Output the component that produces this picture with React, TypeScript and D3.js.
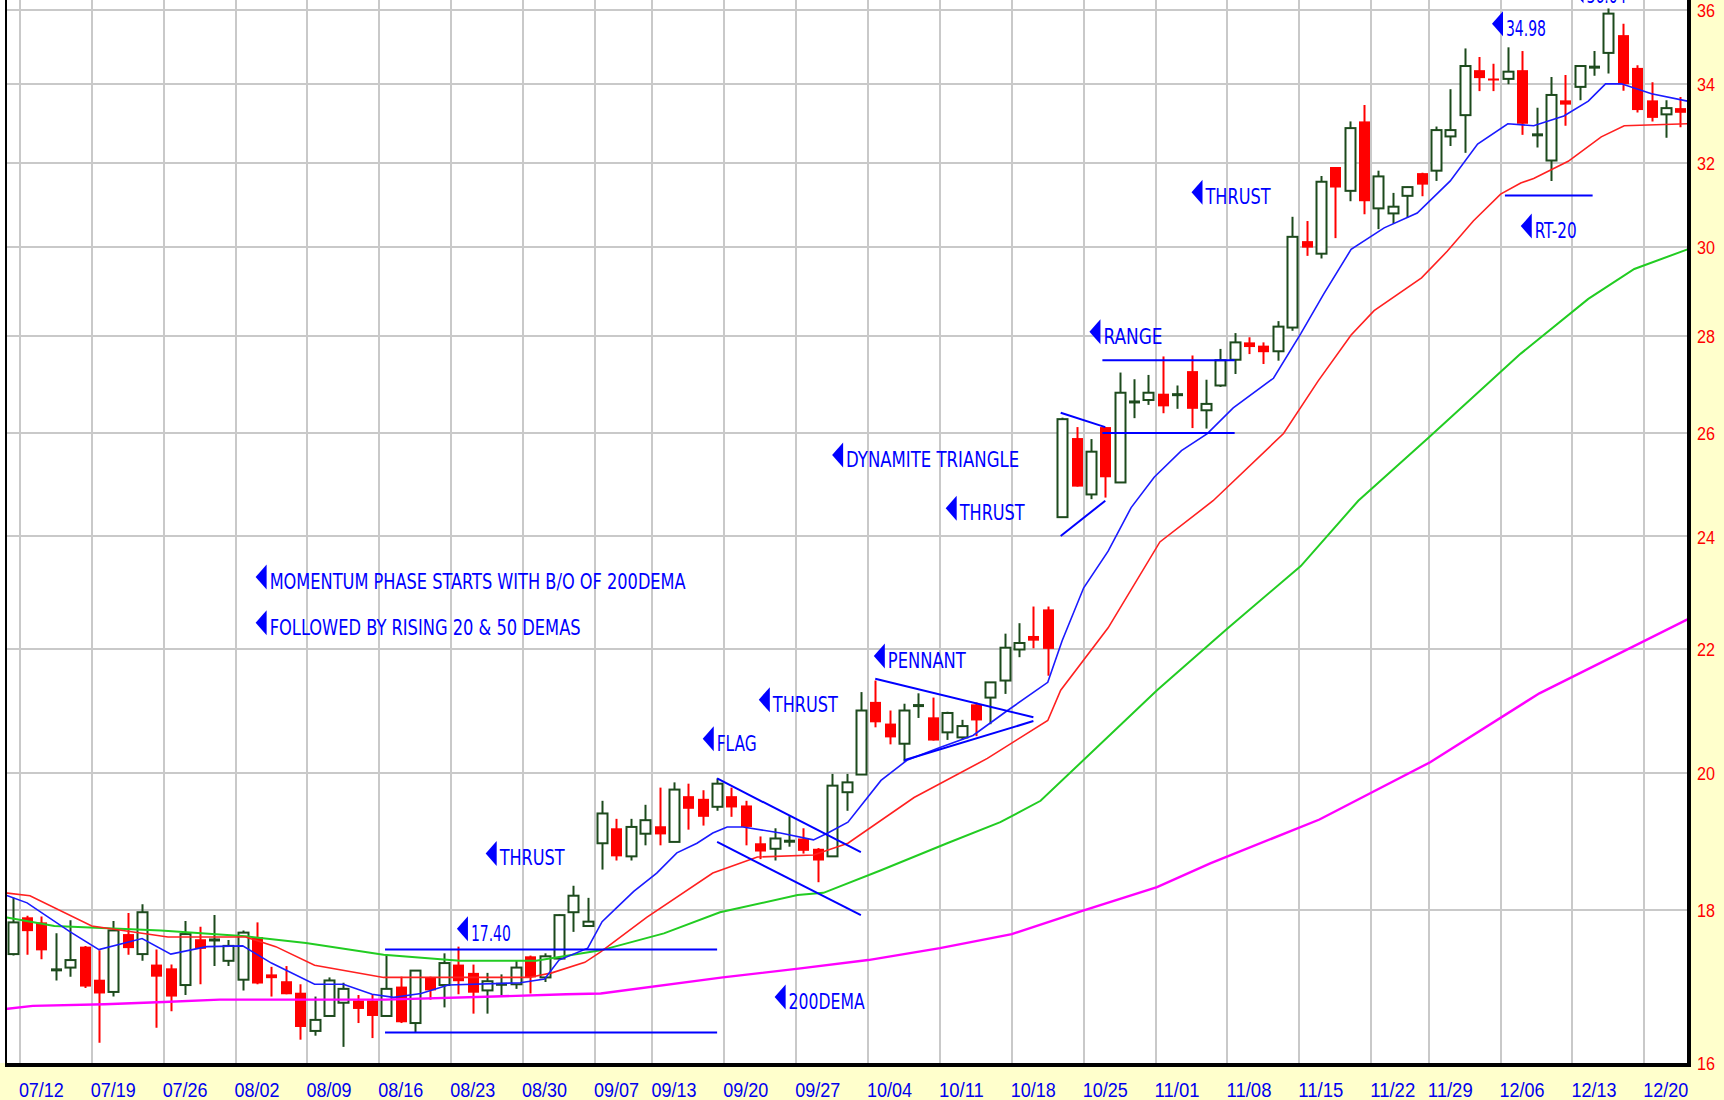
import React from "react";
import * as d3 from "d3";

// ---------------- DATA ----------------
// candle index: -1 = 07/09, 0 = 07/12 ... 115 = 12/22 (trading days)
const firstIndex = -1;

const openP = [
  17.40,
  17.90, 17.83, 17.19, 17.22, 17.50,
  17.06, 16.90, 17.67, 17.40, 17.26,
  17.21, 16.99, 17.60, 17.59, 17.31,
  17.06, 17.63, 17.13, 17.04, 16.89,
  16.40, 16.59, 16.76, 16.79, 16.79,
  16.59, 16.97, 16.50, 17.09, 16.99,
  17.26, 17.15, 16.92, 17.00, 17.00,
  17.37, 17.09, 17.34, 17.97, 17.78,
  18.95, 19.17, 18.76, 19.09,
  19.20, 18.97, 19.65, 19.61, 19.49,
  19.65, 19.51, 18.95, 18.87, 18.98,
  19.02, 18.87, 18.76, 19.71, 19.98,
  21.13, 20.78, 20.46, 21.07, 20.88,
  20.64, 20.56, 21.09, 21.20, 21.48,
  22.00, 22.23, 22.69, 24.36, 25.89,
  24.79, 26.11, 25.02, 26.62, 26.66,
  26.79, 26.77, 27.26, 26.45, 26.96,
  27.50, 27.87, 27.80, 27.68, 28.19,
  30.13, 29.84, 31.90, 31.32, 33.04,
  30.90, 30.78, 31.20, 31.75,
  31.81, 32.66, 33.20, 34.37, 34.15,
  34.14, 34.37, 32.70, 32.06, 33.58,
  33.93, 34.45, 34.83, 35.31, 34.43,
  33.58, 33.22, 33.38,
];

const highP = [
  18.17,
  17.92, 17.91, 17.68, 17.86, 17.51,
  17.45, 17.85, 17.96, 18.08, 17.46,
  17.26, 17.85, 17.77, 17.93, 17.59,
  17.72, 17.83, 17.23, 17.24, 17.00,
  16.84, 17.09, 17.02, 16.86, 16.86,
  17.39, 17.10, 17.18, 17.10, 17.41,
  17.50, 17.26, 17.15, 17.13, 17.31,
  17.38, 17.41, 17.94, 18.34, 18.17,
  19.58, 19.31, 19.31, 19.52,
  19.78, 19.86, 19.84, 19.74, 19.92,
  19.78, 19.58, 19.05, 19.17, 19.35,
  19.17, 18.88, 19.99, 19.99, 21.29,
  21.48, 20.99, 21.10, 21.27, 21.20,
  20.97, 20.84, 21.12, 21.45, 22.27,
  22.45, 22.74, 22.74, 26.30, 26.11,
  25.87, 26.11, 27.23, 27.09, 27.18,
  27.57, 26.96, 27.59, 27.08, 27.73,
  28.07, 27.98, 27.87, 28.33, 30.70,
  30.60, 31.68, 31.90, 33.04, 33.46,
  31.81, 31.27, 31.42, 31.76,
  32.91, 33.87, 34.95, 34.72, 34.54,
  34.98, 34.88, 33.39, 34.19, 34.24,
  34.48, 34.88, 36.04, 35.62, 34.50,
  34.05, 33.58, 33.67,
];

const lowP = [
  17.38,
  17.39, 17.33, 17.05, 17.10, 16.95,
  16.25, 16.84, 17.39, 17.31, 16.44,
  16.65, 16.86, 17.00, 17.24, 17.24,
  16.92, 17.00, 16.84, 16.87, 16.29,
  16.34, 16.59, 16.20, 16.50, 16.31,
  16.59, 16.50, 16.38, 16.80, 16.70,
  16.87, 16.62, 16.62, 16.86, 16.94,
  16.88, 17.03, 17.33, 17.70, 17.78,
  18.57, 18.70, 18.70, 18.92,
  18.92, 18.97, 19.15, 19.21, 19.43,
  19.34, 18.92, 18.72, 18.70, 18.90,
  18.80, 18.39, 18.76, 19.43, 19.98,
  20.72, 20.45, 20.18, 20.87, 20.51,
  20.52, 20.52, 20.58, 20.77, 21.26,
  21.87, 22.02, 21.56, 24.36, 24.94,
  24.70, 24.73, 25.02, 26.29, 26.56,
  26.39, 26.48, 26.09, 26.08, 26.93,
  27.20, 27.62, 27.41, 27.48, 28.12,
  29.79, 29.73, 30.20, 31.07, 30.76,
  30.41, 30.54, 30.68, 31.19,
  31.56, 32.42, 32.25, 33.82, 33.82,
  34.00, 32.70, 32.38, 31.56, 32.93,
  33.58, 34.22, 34.28, 33.83, 33.27,
  33.04, 32.63, 32.89,
];

const closeP = [
  17.83,
  17.71, 17.45, 17.19, 17.32, 16.97,
  16.88, 17.72, 17.48, 17.97, 17.10,
  16.84, 17.67, 17.47, 17.59, 17.51,
  17.69, 17.01, 17.08, 16.87, 16.45,
  16.54, 17.05, 16.94, 16.68, 16.59,
  16.94, 16.51, 17.18, 16.92, 17.28,
  17.04, 16.89, 17.04, 17.00, 17.22,
  17.09, 17.37, 17.93, 18.20, 17.84,
  19.39, 18.76, 19.19, 19.29,
  19.08, 19.75, 19.46, 19.34, 19.84,
  19.48, 19.19, 18.83, 19.02, 18.98,
  18.84, 18.70, 19.81, 19.86, 20.99,
  20.80, 20.56, 20.99, 21.07, 20.51,
  20.95, 20.74, 20.83, 21.45, 22.03,
  22.11, 22.15, 22.01, 26.27, 24.94,
  25.62, 25.12, 26.81, 26.62, 26.81,
  26.53, 26.77, 26.48, 26.58, 27.49,
  27.87, 27.77, 27.66, 28.21, 30.23,
  29.98, 31.54, 31.40, 32.87, 31.07,
  31.67, 30.94, 31.41, 31.47,
  32.82, 32.82, 34.48, 34.16, 34.11,
  34.33, 32.98, 32.70, 33.72, 33.47,
  34.48, 34.45, 35.90, 34.00, 33.33,
  33.13, 33.38, 33.26,
];

// weekly date ticks (index of the Monday / first trading day of the week)
const weekTickIdx = [0, 5, 10, 15, 20, 25, 30, 35, 40, 44, 49, 54, 59, 64, 69, 74, 79, 84, 89, 94, 98, 103, 108, 113];
const weekTickLabels = ["07/12", "07/19", "07/26", "08/02", "08/09", "08/16", "08/23", "08/30", "09/07", "09/13", "09/20", "09/27", "10/04", "10/11", "10/18", "10/25", "11/01", "11/08", "11/15", "11/22", "11/29", "12/06", "12/13", "12/20"];
const priceTicks = [16, 18, 20, 22, 24, 26, 28, 30, 32, 34, 36];

// moving averages [index, price]
const dema10 = [[-1.5, 18.21], [0, 18.10], [3, 17.70], [5, 17.46], [8, 17.61], [10, 17.40], [12.5, 17.50], [15, 17.51], [17, 17.28], [20, 17.00], [22, 17.00], [24, 16.87], [25.5, 16.83], [27.4, 16.88], [29.3, 16.99], [34.3, 17.02], [36, 17.07], [37, 17.32], [39, 17.48], [40, 17.84], [41, 18.03], [42.2, 18.26], [43.8, 18.52], [45.2, 18.81], [46.6, 18.95], [47.7, 19.10], [48.7, 19.19], [49.8, 19.19], [52.4, 19.10], [54.7, 19.00], [55.7, 19.10], [57.1, 19.26], [59.4, 19.89], [61.2, 20.20], [63.5, 20.40], [65.8, 20.59], [68.2, 20.99], [71, 21.45], [72, 22.15], [73.5, 23.07], [75.2, 23.73], [76.8, 24.54], [78.4, 25.12], [80.3, 25.64], [82.1, 25.98], [83.9, 26.50], [86.7, 27.11], [88.6, 28.06], [90.2, 28.93], [92.1, 29.94], [94.4, 30.44], [96.7, 30.79], [99, 31.56], [100.9, 32.47], [103, 32.98], [104.8, 32.93], [106.9, 33.18], [108.6, 33.56], [109.8, 34.01], [110.9, 34.01], [113, 33.75], [115.5, 33.56]];
const dema20 = [[-1.5, 18.24], [0.2, 18.20], [4.5, 17.78], [9.8, 17.63], [15.2, 17.63], [17.3, 17.50], [20, 17.25], [24.8, 17.09], [34.9, 17.09], [36.5, 17.15], [38.8, 17.29], [39.9, 17.43], [43.1, 17.90], [47.7, 18.52], [50.8, 18.75], [54.7, 18.78], [57.1, 18.95], [61.7, 19.63], [66.8, 20.23], [71, 20.83], [71.9, 21.32], [75.2, 22.37], [78.8, 23.90], [82.5, 24.67], [87.4, 25.98], [89.8, 27.05], [92.1, 28.03], [93.7, 28.56], [97, 29.29], [98.8, 29.90], [100.6, 30.60], [102.5, 31.24], [103.9, 31.51], [104.8, 31.62], [107.2, 32.04], [109.5, 32.65], [111.1, 32.93], [115.5, 32.98]];
const dema50 = [[-1.5, 17.90], [1.9, 17.78], [9.3, 17.72], [15.2, 17.64], [19.4, 17.55], [24.8, 17.39], [30.1, 17.31], [35.4, 17.31], [39.9, 17.45], [44.3, 17.68], [48.2, 17.97], [53.6, 18.21], [55.4, 18.24], [59.4, 18.56], [64, 18.95], [67.7, 19.26], [70.5, 19.58], [78.6, 21.32], [83.5, 22.36], [88.6, 23.46], [92.6, 24.67], [97.5, 25.90], [103.9, 27.63], [108.6, 28.82], [111.8, 29.49], [115.5, 29.94]];
const dema200 = [[-1.5, 16.68], [0.4, 16.72], [5.4, 16.74], [9.5, 16.77], [13.4, 16.80], [24.9, 16.80], [32.5, 16.84], [37.5, 16.87], [39.9, 16.88], [48.4, 17.09], [53.8, 17.21], [58.5, 17.32], [63.5, 17.48], [68.5, 17.67], [73.4, 17.99], [78.6, 18.32], [82.3, 18.66], [89.9, 19.30], [97.6, 20.17], [105.2, 21.27], [115.6, 22.53]];

// drawn pattern lines [[index, price], [index, price]]
const patternLines = [
  [[24.9, 17.46], [48.0, 17.46]],
  [[24.9, 16.38], [48.0, 16.38]],
  [[48.0, 19.92], [58.0, 18.82]],
  [[48.0, 18.97], [58.0, 17.93]],
  [[59.0, 21.51], [70.0, 20.88]],
  [[61.0, 20.20], [70.0, 20.82]],
  [[71.9, 26.40], [75.0, 26.11]],
  [[71.9, 24.01], [75.0, 24.67]],
  [[74.8, 27.49], [84.0, 27.49]],
  [[74.8, 25.99], [84.0, 25.99]],
  [[102.8, 31.21], [108.9, 31.21]],
];

// annotations: text, anchor index, anchor price (baseline)
const annoText = ["MOMENTUM PHASE STARTS WITH B/O OF 200DEMA", "FOLLOWED BY RISING 20 & 50 DEMAS", "THRUST", "17.40", "FLAG", "THRUST", "PENNANT", "DYNAMITE TRIANGLE", "THRUST", "RANGE", "THRUST", "34.98", "RT-20", "200DEMA", "36.04"];
const annoIdx = [15.9, 15.9, 31.9, 29.9, 47.0, 50.9, 58.9, 56.0, 63.9, 73.9, 81.0, 101.9, 103.9, 52.0, 107.5];
const annoPrice = [23.05, 22.25, 18.63, 17.58, 20.35, 20.97, 21.69, 25.32, 24.30, 27.84, 31.00, 35.29, 30.20, 16.68, 36.20];

// ---------------- STYLE ----------------
const annoWidth = [416, 311, 65, 40, 40, 65, 78, 173, 65, 59, 65, 40, 42, 76, 40];
const W = 1724;
const H = 1100;
const PLOT_L = 5.5;
const PLOT_R = 1687.5;
const PLOT_B = 1063;
const BG_YELLOW = "#ffffcc";
const GRID = "#c9c9c9";
const UP_GREEN = "#1d4a1d";
const DOWN_RED = "#ff0000";
const BLUE = "#0000ff";
const NARROW = "'Liberation Sans Narrow', 'Arial Narrow', 'DejaVu Sans Condensed', 'Liberation Sans', Arial, sans-serif";
const SANS = "'Liberation Sans', Arial, 'DejaVu Sans', sans-serif";

export default function App() {
  const x = d3.scaleLinear().domain([-1.5, 115.5]).range([PLOT_L, PLOT_R]);
  const y = d3.scaleLog().domain([16, 36]).range([PLOT_B, 10]);
  const lineGen = d3
    .line<number[]>()
    .x((d) => x(d[0]))
    .y((d) => y(d[1]));

  const candles = openP.map((o, k) => {
    const i = k + firstIndex;
    const h = highP[k];
    const l = lowP[k];
    const c = closeP[k];
    const cx = Math.round(x(i));
    const up = c > o;
    const doji = c === o;
    const col = up || doji ? UP_GREEN : DOWN_RED;
    let body;
    if (doji) {
      body = <rect x={cx - 5} y={y(o) - 1.5} width={11} height={3} fill={UP_GREEN} />;
    } else if (up) {
      body = (
        <rect x={cx - 4.5} y={y(c)} width={10} height={Math.max(1, y(o) - y(c))} fill="#ffffff" stroke={UP_GREEN} strokeWidth={2} />
      );
    } else {
      body = <rect x={cx - 5} y={y(o)} width={11} height={Math.max(2, y(c) - y(o))} fill={DOWN_RED} />;
    }
    return (
      <g key={k}>
        <line x1={cx + 0.5} x2={cx + 0.5} y1={y(h)} y2={y(l)} stroke={col} strokeWidth={2} />
        {body}
      </g>
    );
  });

  return (
    <svg
      width={W}
      height={H}
      viewBox={`0 0 ${W} ${H}`}
      style={{ position: "absolute", left: 0, top: 0, display: "block" }}
    >
      <defs>
        <clipPath id="plotClip">
          <rect x={PLOT_L} y={-40} width={PLOT_R - PLOT_L} height={PLOT_B + 40} />
        </clipPath>
      </defs>
      {/* backgrounds */}
      <rect x={0} y={0} width={W} height={H} fill={BG_YELLOW} />
      <rect x={0} y={0} width={PLOT_R} height={PLOT_B} fill="#ffffff" />

      {/* grid */}
      <g>
        {weekTickIdx.map((t, k) => (
          <line key={"vg" + k} x1={Math.round(x(t - 0.5))} x2={Math.round(x(t - 0.5))} y1={0} y2={PLOT_B} stroke={GRID} strokeWidth={2} />
        ))}
        {priceTicks.slice(1).map((p, k) => (
          <line key={"hg" + k} x1={PLOT_L} x2={PLOT_R} y1={Math.round(y(p))} y2={Math.round(y(p))} stroke={GRID} strokeWidth={2} />
        ))}
      </g>

      <g clipPath="url(#plotClip)">
        {candles}
        <path d={lineGen(dema200) || ""} fill="none" stroke="#ff00ff" strokeWidth={2.4} />
        <path d={lineGen(dema50) || ""} fill="none" stroke="#22cc22" strokeWidth={2} />
        <path d={lineGen(dema20) || ""} fill="none" stroke="#ff2020" strokeWidth={1.6} />
        <path d={lineGen(dema10) || ""} fill="none" stroke="#1a1aff" strokeWidth={1.6} />
        {patternLines.map((seg, k) => (
          <line key={"pl" + k} x1={x(seg[0][0])} y1={y(seg[0][1])} x2={x(seg[1][0])} y2={y(seg[1][1])} stroke={BLUE} strokeWidth={2} />
        ))}
        {annoText.map((t, k) => {
          const tx = x(annoIdx[k]);
          const by = y(annoPrice[k]);
          const yc = by - 12;
          return (
            <g key={"an" + k}>
              <path d={`M${tx},${yc} L${tx + 11},${yc - 12.5} L${tx + 11},${yc + 12.5} Z`} fill={BLUE} />
              <text
                x={tx + 14}
                y={by}
                fill={BLUE}
                fontFamily={NARROW}
                fontSize={22}
                textLength={annoWidth[k]}
                lengthAdjust="spacingAndGlyphs"
              >
                {t}
              </text>
            </g>
          );
        })}
      </g>

      {/* frame */}
      <line x1={6} x2={6} y1={0} y2={PLOT_B + 4} stroke="#000" strokeWidth={2} />
      <line x1={5} x2={PLOT_R + 3.5} y1={PLOT_B + 2} y2={PLOT_B + 2} stroke="#000" strokeWidth={4} />
      <line x1={PLOT_R + 1.5} x2={PLOT_R + 1.5} y1={0} y2={PLOT_B + 4} stroke="#000" strokeWidth={4} />

      {/* axes labels */}
      {priceTicks.map((p, k) => (
        <text
          key={"yl" + k}
          x={1697}
          y={y(p) + 7}
          fill="#ff0000"
          fontFamily={SANS}
          fontSize={18}
          textLength={18}
          lengthAdjust="spacingAndGlyphs"
        >
          {p}
        </text>
      ))}
      {weekTickIdx.map((t, k) => (
        <text
          key={"xl" + k}
          x={x(t - 0.5) - 1}
          y={1097}
          fill="#0000ee"
          fontFamily={SANS}
          fontSize={20}
          textLength={45}
          lengthAdjust="spacingAndGlyphs"
        >
          {weekTickLabels[k]}
        </text>
      ))}
    </svg>
  );
}
